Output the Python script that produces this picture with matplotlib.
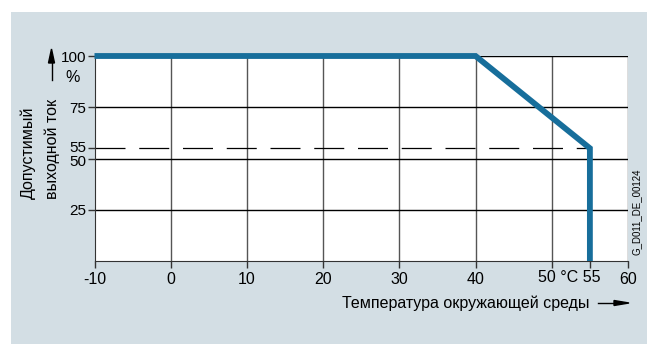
import matplotlib.pyplot as plt
from matplotlib.transforms import ScaledTranslation

plt.rcParams['font.family'] = ['Liberation Sans', 'DejaVu Sans']

# --- DATA ---
curve_temp = [-10, 40, 55, 55]
curve_current = [100, 100, 55, 0]
x_ticks = [-10, 0, 10, 20, 30, 40, 50, 55, 60]
x_labels = ['-10', '0', '10', '20', '30', '40', '', '', '60']
x_grid = [0, 10, 20, 30, 40, 50, 60]
y_ticks = [25, 50, 55, 75, 100]
y_grid = [25, 50, 75, 100]
limit_level = 55

BLUE = '#176e9b'
PANEL = '#d3dee4'
FS = 11.5

fig = plt.figure(figsize=(6.47, 3.44), dpi=100)
fig.patch.set_facecolor('white')

# light panel behind the chart
bg = fig.add_axes([11 / 647, 0, 1 - 11 / 647, 1 - 12 / 344], zorder=0)
bg.axis('off')
bg.add_patch(plt.Rectangle((0, 0), 1, 1, transform=bg.transAxes, facecolor=PANEL,
                           edgecolor='none'))

ax = fig.add_axes([94.5 / 647, 1 - 261 / 344, (628 - 94.5) / 647, (261 - 56) / 344],
                  zorder=2)
ax.set_facecolor('white')
ax.set_xlim(-10, 60)
ax.set_ylim(0, 100)

# grid
for x in x_grid:
    ax.axvline(x, color='#555555', lw=1.0, zorder=1)
for y in y_grid:
    ax.axhline(y, color='black', lw=1.0, zorder=1)
ax.plot([-10, 55], [limit_level, limit_level], color='black', lw=0.9,
        dashes=(24, 11), zorder=2)

# derating curve
ax.plot(curve_temp, curve_current, color=BLUE, lw=4.2, solid_joinstyle='miter',
        solid_capstyle='butt', zorder=3, clip_on=False)

for s in ['top', 'right']:
    ax.spines[s].set_visible(False)
ax.spines['left'].set_color('#333333')
ax.spines['bottom'].set_color('#333333')

ax.set_xticks(x_ticks)
ax.set_xticklabels(x_labels)
ax.set_yticks(y_ticks)
ax.set_yticklabels([str(t) for t in y_ticks])
ax.tick_params(axis='both', direction='out', length=5, width=1, color='#333333',
               labelsize=FS, pad=3)
ax.tick_params(axis='y', pad=1, labelsize=11)

# nudge the crowded 55 / 50 labels apart a little, as in the original
for lbl in ax.get_yticklabels():
    if lbl.get_text() == '55':
        lbl.set_transform(lbl.get_transform() + ScaledTranslation(0, 1.5 / 100, fig.dpi_scale_trans))
    elif lbl.get_text() == '50':
        lbl.set_transform(lbl.get_transform() + ScaledTranslation(0, -2 / 100, fig.dpi_scale_trans))

# 50 °C 55 label group
ax.text(52.25, -4.2, '50 °C 55', ha='center', va='top', fontsize=FS)
fig.text(73 / 647, 1 - 78 / 344, '%', ha='center', va='center', fontsize=FS, zorder=3)

# y axis label with arrow
fig.text(28.5 / 647, 1 - 199 / 344, 'Допустимый', rotation=90, ha='center', va='bottom',
         fontsize=11.5, zorder=3)
fig.text(52 / 647, 1 - 199 / 344, 'выходной ток', rotation=90, ha='center', va='bottom',
         fontsize=11.5, zorder=3)
fig.add_artist(plt.Line2D([51.5 / 647, 51.5 / 647], [1 - 80 / 344, 1 - 60 / 344],
                          color='black', lw=1, transform=fig.transFigure, zorder=3))
fig.add_artist(plt.Polygon([[48.5 / 647, 1 - 63 / 344], [54.5 / 647, 1 - 63 / 344],
                            [51.5 / 647, 1 - 49 / 344]], closed=True, color='black',
                           transform=fig.transFigure, zorder=3))

# x axis label with arrow
fig.text(590 / 647, 1 - 303 / 344, 'Температура окружающей среды', ha='right', va='center',
         fontsize=11.5, zorder=3)
fig.add_artist(plt.Line2D([598 / 647, 616 / 647], [1 - 303 / 344, 1 - 303 / 344],
                          color='black', lw=1, transform=fig.transFigure, zorder=3))
fig.add_artist(plt.Polygon([[614 / 647, 1 - 300.5 / 344], [614 / 647, 1 - 305.5 / 344],
                            [629 / 647, 1 - 303 / 344]], closed=True, color='black',
                           transform=fig.transFigure, zorder=3))

# drawing id
fig.text(637 / 647, 1 - 212 / 344, 'G_D011_DE_00124', rotation=90, ha='center',
         va='center', fontsize=7, zorder=3)

fig.savefig('out.png', dpi=100, facecolor=fig.get_facecolor())
